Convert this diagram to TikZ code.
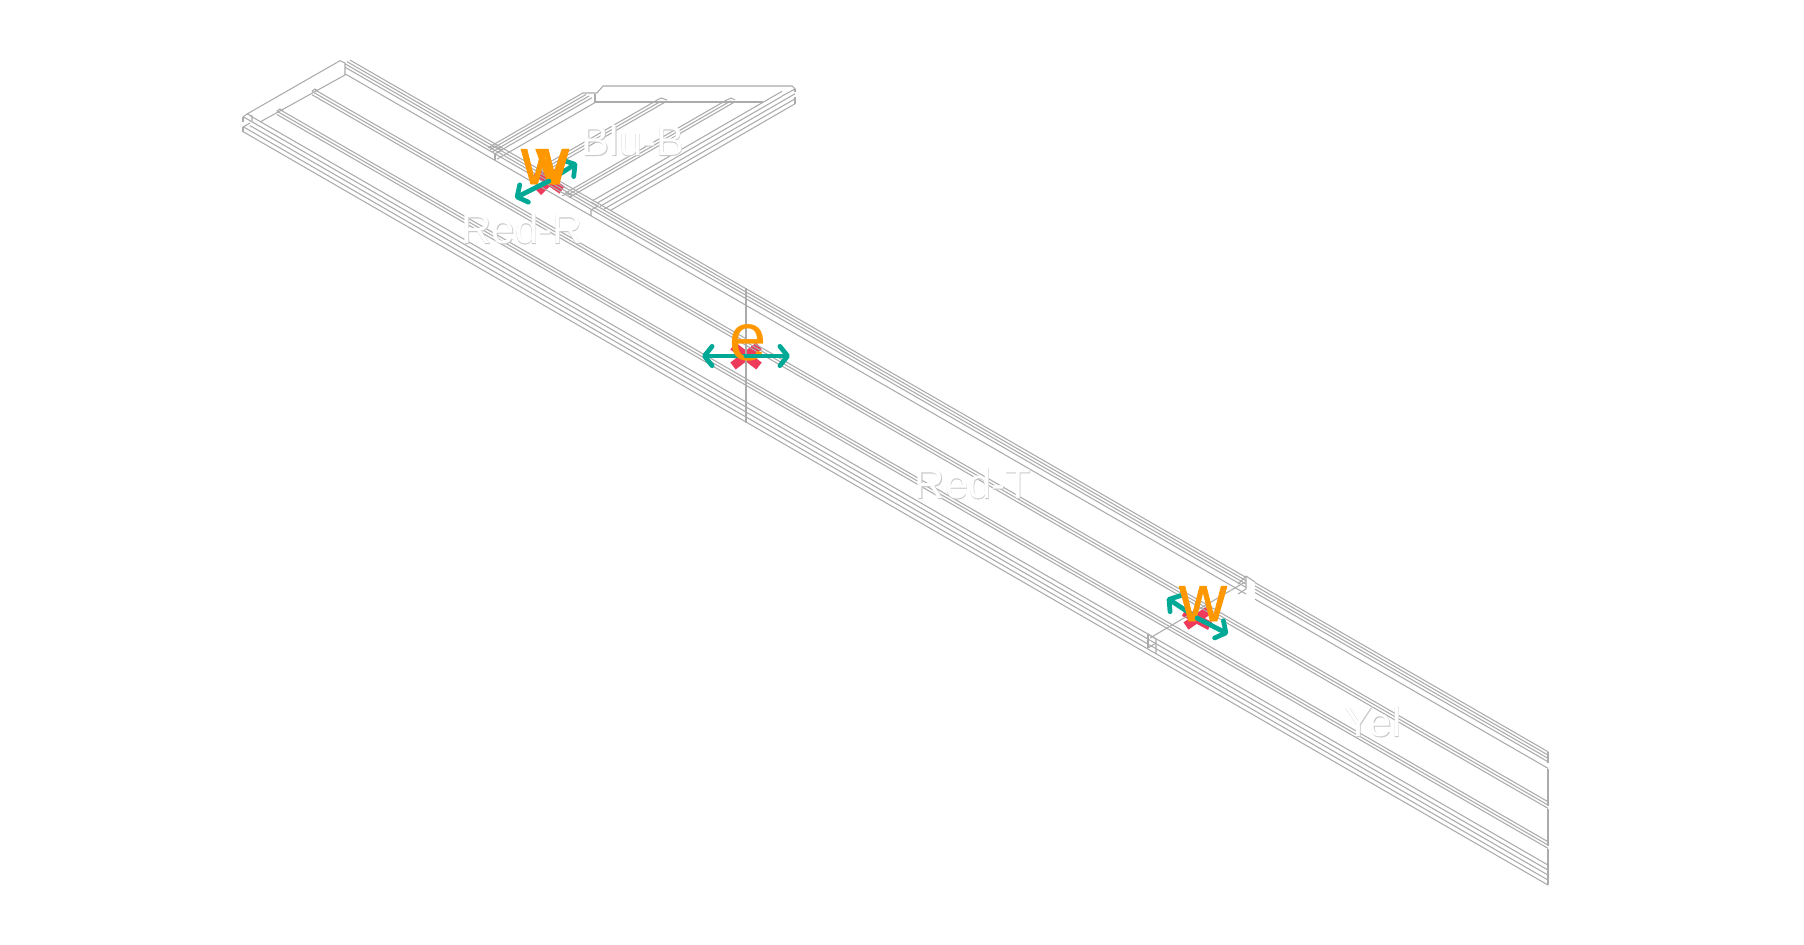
\documentclass[tikz,border=0pt]{standalone}
\usepackage{fontspec}
\usetikzlibrary{arrows.meta,calc}
\setmainfont{Liberation Sans}
\newfontfamily\heavyfont[FakeBold=0.45]{Liberation Sans}
\newfontfamily\letterfont[FakeBold=1.2]{Liberation Sans}
\definecolor{wiregrey}{HTML}{ABABAB}
\definecolor{ghostgrey}{HTML}{C8C8C8}
\definecolor{dirteal}{HTML}{00A896}
\definecolor{crossred}{HTML}{EE3B5B}
\definecolor{letterorange}{HTML}{FF9800}
\newcommand{\ghosttext}[1]{\fontsize{23.8}{24}\selectfont\makebox[0pt][l]{\heavyfont\color{ghostgrey}#1}{\color{white}#1}}
\tikzset{
  wire/.style={draw=wiregrey,line width=0.6pt},
  wireheavy/.style={draw=wiregrey,line width=1.1pt},
  crossarm/.style={draw=crossred,line width=5pt},
  dirarrow/.style={draw=dirteal,line width=2.7pt,line cap=round,-{Straight Barb[length=4.4pt,width=11pt,round]}},
  dirletter/.style={text=letterorange,inner sep=0pt,anchor=base,font=\letterfont\fontsize{37.5}{38}\selectfont},
  thinletter/.style={text=letterorange,inner sep=0pt,anchor=base,font=\fontsize{38}{38}\selectfont},
  lbl/.style={inner sep=0pt}
}
\begin{document}
\begin{tikzpicture}[x=0.02cm,y=-0.02cm]
\useasboundingbox (0,0) rectangle (1804,944);

% Red crosses under the wireframe
\coordinate (midE) at (746,356);
\coordinate (topJ) at (549,181);
\coordinate (yelJ) at (1197,618);
\draw[crossarm] ($(midE)+(-13,-10)$) -- ($(midE)+(13,10)$);
\draw[crossarm] ($(midE)+(-13,10)$) -- ($(midE)+(13,-10)$);
\draw[crossarm] ($(topJ)+(-13,-9)$) -- ($(topJ)+(13,9)$);
\draw[crossarm] ($(topJ)+(-11,11)$) -- ($(topJ)+(11,-11)$);
\draw[crossarm] ($(yelJ)+(-13,-6)$) -- ($(yelJ)+(13,8)$);
\draw[crossarm] ($(yelJ)+(-11,8)$) -- ($(yelJ)+(12,-8)$);

% Main beam, rail next to the side beam (broken at the joint)
\foreach \c/\xs in {-142/350,-138.7/347,-135.4/345,-132/345,-125.4/345}{
  \draw[wire] (\xs,{0.57735*\xs+\c}) -- (1246,{0.57735*1246+\c});
  \draw[wire] (1255,{0.57735*1255+\c}) -- (1548,{0.57735*1548+\c});
}
% Main beam, ridges
\foreach \c/\xs in {-92/315,-88.7/312,-85.4/312,-52/280,-48.7/277,-45.4/277}{
  \draw[wire] (\xs,{0.57735*\xs+\c}) -- (1548,{0.57735*1548+\c});
}
% Main beam, outer rail
\foreach \c/\xs in {-28.7/250,-23.7/243,-18.7/250,-13.7/243,-8.7/243}{
  \draw[wire] (\xs,{0.57735*\xs+\c}) -- (1548,{0.57735*1548+\c});
}

% Far end of main beam
\draw[wire] (247,114) -- (340,60.7) -- (345,63) -- (345,75) -- (260,122);
\draw[wire] (243,117) -- (247,114) -- (252,116) -- (252,121);
\draw[wire] (243,117) -- (243,122);
\draw[wire] (243,127) -- (243,132);
\draw[wire] (243,127) -- (250,123);
\draw[wire] (312,91) -- (315,89) -- (318,91);
\draw[wire] (277,111) -- (280,109) -- (283,111);

% Split and end of main beam
\draw[wireheavy] (746,288) -- (746,423);
\draw[wireheavy] (1548,752) -- (1548,763);
\draw[wireheavy] (1548,769) -- (1548,806);
\draw[wireheavy] (1548,809) -- (1548,846);
\draw[wireheavy] (1548,849) -- (1548,885);

% Joint before the last beam
\draw[wire] (1245,582) -- (1150,638);
\draw[wire] (1246,576) -- (1246,589) -- (1238,594);
\draw[wire] (1246,576) -- (1255,582);
\draw[wire] (1238,584) -- (1246,576);
\draw[wire] (1148,634) -- (1148,648);
\draw[wire] (1148,634) -- (1156,639) -- (1156,654);
\draw[wire] (1148,648) -- (1156,643);

% Side beam, left rail
\foreach \c/\xs/\xe in {429.5/488/583,432.8/490/586,436.1/492/589,439.5/495/592,446.1/497/595}{
  \draw[wire] (\xs,{\c-0.57735*\xs}) -- (\xe,{\c-0.57735*\xe});
}
% Side beam, ridges
\foreach \c/\xs/\xe in {479.5/535/657,482.8/537/661,486.1/539/667,519.5/565/727,522.8/567/731,526.1/569/735}{
  \draw[wire] (\xs,{\c-0.57735*\xs}) -- (\xe,{\c-0.57735*\xe});
}
% Side beam, right rail
\foreach \c/\xs/\xe in {542.8/593/782,547.8/597/782,552.8/600/795,557.8/604/795,562.8/610/795}{
  \draw[wire] (\xs,{\c-0.57735*\xs}) -- (\xe,{\c-0.57735*\xe});
}
% Far end of side beam
\draw[wire] (583,93) -- (597,93) -- (603,86) -- (792,86) -- (795,89) -- (782,96);
\draw[wireheavy] (595,102) -- (763,102);
\draw[wire] (595,94) -- (595,103);
\draw[wire] (795,89) -- (795,92);
\draw[wireheavy] (795,97) -- (795,104);
\draw[wire] (657,100) -- (661,98) -- (667,100);
\draw[wire] (727,100) -- (731,98) -- (735,100);

% Side beam joints on the main beam
\draw[wire] (489,148) -- (495,146) -- (502,150) -- (497,153);
\draw[wire] (495,154) -- (495,160);
\draw[wire] (591,202) -- (598,206) -- (591,210) -- (591,216);
\draw[wire] (562,196) -- (568,193) -- (572,196);

% Labels
\node[lbl] (redR) at (522,229) {\ghosttext{Red-R}};
\node[lbl] (redT) at (973,484) {\ghosttext{Red-T}};
\node[lbl] (bluB) at (633,141) {\ghosttext{Blu-B}};
\node[lbl] (yelL) at (1373,722) {\ghosttext{Yel}};

% Direction arrows and letters
\coordinate (midEl) at (702,356);
\coordinate (midEr) at (790,356);
\coordinate (topJl) at (515,198);
\coordinate (topJr) at (577,163);
\coordinate (yelJl) at (1167,598);
\coordinate (yelJr) at (1228,634);
\draw[dirarrow] (midE) -- (midEl);
\draw[dirarrow] (topJ) -- (topJr);
\draw[dirarrow] (yelJ) -- (yelJl);
\node[thinletter] (letE) at (748,360) {e};
\node[dirletter] (letW) at (545,184) {w};
\node[dirletter] (letV) at (552,184) {v};
\node[dirletter] (letY) at (1203,621) {w};
\draw[dirarrow] (midE) -- (midEr);
\draw[dirarrow] (topJ) -- (topJl);
\draw[dirarrow] (yelJ) -- (yelJr);
\end{tikzpicture}
\end{document}
